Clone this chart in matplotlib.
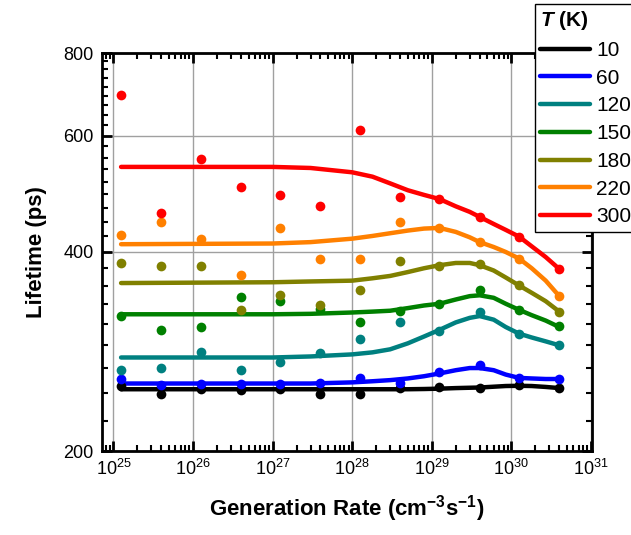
import numpy as np
import matplotlib
matplotlib.use("Agg")
import matplotlib.pyplot as plt
from matplotlib.ticker import MultipleLocator, LogLocator, FixedLocator, NullFormatter

plt.rcParams['font.family'] = ['Liberation Sans', 'DejaVu Sans']
plt.rcParams['mathtext.fontset'] = 'custom'
plt.rcParams['mathtext.rm'] = 'Liberation Sans'
plt.rcParams['mathtext.it'] = 'Liberation Sans:italic'
plt.rcParams['mathtext.bf'] = 'Liberation Sans:bold'
if 'mathtext.bfit' in plt.rcParams:
    plt.rcParams['mathtext.bfit'] = 'Liberation Sans:bold:italic'

# generation rate of the measured points (cm^-3 s^-1)
gen_rate = [1.25e25, 4e25, 1.25e26, 4e26, 1.25e27, 4e27,
            1.25e28, 4e28, 1.25e29, 4e29, 1.25e30, 4e30]
# generation rate where the fitted curves were read
gen_fit = [1.25e25, 1e27, 3e27, 1e28, 1.8e28, 3e28, 5e28, 8e28, 1.25e29,
           2e29, 3e29, 4e29, 6e29, 8.5e29, 1.25e30, 1.8e30, 2.7e30, 4e30]

temps = ['10', '60', '120', '150', '180', '220', '300']
colors = ['#000000', '#0000FF', '#008080', '#008000', '#808000', '#FF8000', '#FF0000']

# measured lifetimes (ps)
life_10K = [251, 243.7, 248, 247, 248, 243.7, 243.5, 249, 250, 249, 251.5, 249]
life_60K = [257, 252, 253, 252.6, 253, 253.6, 258, 253.6, 263.5, 269.5, 258, 257]
life_120K = [265, 267, 282, 265, 272.5, 281, 295, 313, 304, 324, 301, 289]
life_150K = [320, 305, 307.7, 342, 337, 328, 313, 326, 334, 350.6, 327, 308.6]
life_180K = [385, 381, 381.5, 327, 344.5, 332, 351, 387, 381, 384, 356, 325]
life_220K = [425, 443.5, 419, 369, 435, 391, 391, 444, 435, 414, 391, 343]
life_300K = [690, 458, 553, 502, 488, 470, 611, 484, 481, 452, 422, 377]

# fitted curves (ps)
fit_10K = [248, 248, 248, 248, 248, 248, 248, 248.2, 248.5, 249, 249.3, 249.5,
           250.2, 250.8, 251, 250.8, 250, 249]
fit_60K = [253, 253, 253, 254, 255, 256, 257.5, 259.5, 262, 265, 267, 267,
           265, 261, 258, 257.5, 257, 257]
fit_120K = [277, 277, 278, 280, 282, 285, 291, 298, 305, 313, 318, 320,
            316, 308, 301, 297, 293, 289]
fit_150K = [322, 322, 322.5, 324, 325, 326, 329, 332, 334, 339, 343, 344,
            341, 334, 327, 321, 315, 308]
fit_180K = [359, 360, 361, 362, 365, 368, 373, 378, 382, 385, 385, 382,
            375, 366, 356, 347, 337, 325]
fit_220K = [411, 412, 414, 419, 423, 427, 431, 434, 435, 429, 421, 414,
            407, 400, 391, 378, 362, 343]
fit_300K = [538, 538, 536, 528, 520, 508, 496, 488, 481, 469, 460, 452,
            441, 432, 422, 408, 393, 377]

lifetimes = [life_10K, life_60K, life_120K, life_150K, life_180K, life_220K, life_300K]
fits = [fit_10K, fit_60K, fit_120K, fit_150K, fit_180K, fit_220K, fit_300K]

fig = plt.figure(figsize=(6.31, 5.35), dpi=100)
ax = fig.add_axes([102 / 631, 84 / 535, 490 / 631, 398 / 535])

handles = []
for temp, col, pts, fit in zip(temps, colors, lifetimes, fits):
    ln, = ax.plot(gen_fit, fit, color=col, lw=3.2, solid_capstyle='round',
                  solid_joinstyle='round', zorder=3, label=temp)
    ax.plot(gen_rate, pts, 'o', color=col, ms=7, mec='none', zorder=4)
    handles.append(ln)

ax.set_xscale('log')
ax.set_yscale('log')
ax.set_xlim(7.2e24, 1.03e31)
ax.set_ylim(200, 800)

ax.xaxis.set_major_locator(FixedLocator([1e25, 1e26, 1e27, 1e28, 1e29, 1e30, 1e31]))
ax.xaxis.set_minor_locator(LogLocator(base=10, subs=np.arange(2, 10), numticks=20))
ax.xaxis.set_minor_formatter(NullFormatter())
ax.yaxis.set_major_locator(FixedLocator([200, 400, 600, 800]))
ax.yaxis.set_major_formatter(matplotlib.ticker.FuncFormatter(lambda v, p: f"{v:.0f}"))
ax.yaxis.set_minor_locator(MultipleLocator(200 / 9))
ax.yaxis.set_minor_formatter(NullFormatter())

ax.grid(True, which='major', color='#A0A0A0', lw=1, zorder=0)
ax.set_axisbelow(True)
ax.tick_params(which='both', direction='in', top=True, right=True, labelsize=13, pad=6)
ax.tick_params(which='major', length=7, width=2)
ax.tick_params(which='minor', length=4, width=1.5)
for sp in ax.spines.values():
    sp.set_linewidth(2)

ax.set_xlabel(r"Generation Rate (cm$^{\mathbf{-3}}$s$^{\mathbf{-1}}$)", fontsize=16,
              fontweight='bold', labelpad=10)
ax.set_ylabel("Lifetime (ps)", fontsize=16, fontweight='bold', labelpad=12)

title = r"$\mathbfit{T}$ (K)" if 'mathtext.bfit' in plt.rcParams else r"$\mathit{T}$ (K)"
leg = ax.legend(handles=handles, labels=temps, title=title, loc='upper left',
                bbox_to_anchor=(535 / 631, 1 - 4 / 535), bbox_transform=fig.transFigure,
                borderaxespad=0, fontsize=15, fancybox=False, framealpha=1,
                edgecolor='black', handlelength=2.4, handletextpad=0.3,
                labelspacing=0.42, borderpad=0.25, alignment='left',
                title_fontproperties={'weight': 'bold', 'size': 15})
leg.get_frame().set_linewidth(1)
leg.set_zorder(10)

fig.savefig('out.png', dpi=100)
